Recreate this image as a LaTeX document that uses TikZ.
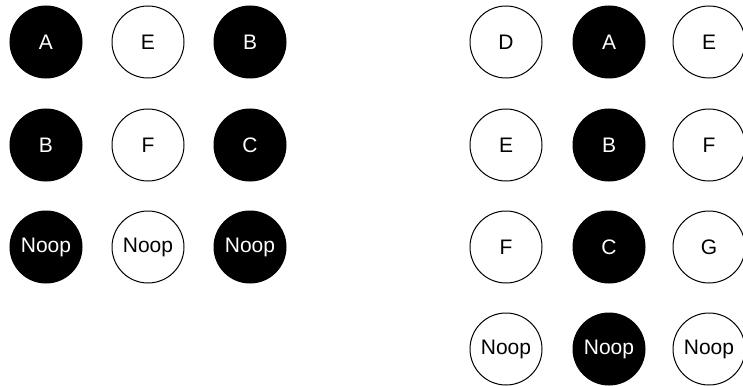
\documentclass[tikz,border=0pt]{standalone}
\usepackage{fontspec}
\setmainfont{Liberation Sans}
\begin{document}
\begin{tikzpicture}[x=1pt,y=-1pt,
  tok/.style={circle,minimum size=72pt,inner sep=0pt,line width=1pt,
    font=\fontsize{21}{23}\selectfont},
  on/.style={tok,draw=black,fill=black,text=white},
  off/.style={tok,draw=black,fill=white,text=black}]
\useasboundingbox (0,0) rectangle (743,385);
% left grid
\node[on]  (l11) at (46,42)  {A};
\node[off] (l12) at (148,42) {E};
\node[on]  (l13) at (250,42) {B};
\node[on]  (l21) at (46,145)  {B};
\node[off] (l22) at (148,145) {F};
\node[on]  (l23) at (250,145) {C};
\node[on]  (l31) at (46,247)  {Noop};
\node[off] (l32) at (148,247) {Noop};
\node[on]  (l33) at (250,247) {Noop};
% right grid
\node[off] (r11) at (506,42) {D};
\node[on]  (r12) at (609,42) {A};
\node[off] (r13) at (709,42) {E};
\node[off] (r21) at (506,145) {E};
\node[on]  (r22) at (609,145) {B};
\node[off] (r23) at (709,145) {F};
\node[off] (r31) at (506,247) {F};
\node[on]  (r32) at (609,247) {C};
\node[off] (r33) at (709,247) {G};
\node[off] (r41) at (506,349) {Noop};
\node[on]  (r42) at (609,349) {Noop};
\node[off] (r43) at (709,349) {Noop};
\end{tikzpicture}
\end{document}
